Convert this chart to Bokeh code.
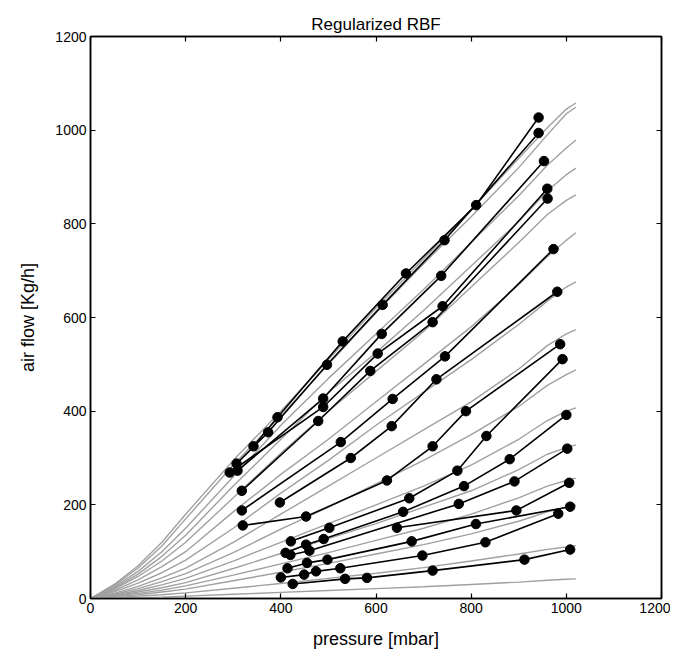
from bokeh.plotting import figure
from bokeh.models import LinearAxis, Range1d, FixedTicker, CustomLabelingPolicy
from bokeh.embed import file_html
from bokeh.resources import INLINE

# ---- model curves (gray), sampled at common pressures ----
gray_x = [0, 50, 100, 150, 200, 300, 400, 500, 600, 700, 800, 900, 960, 1000, 1020]
gray_1 = [0, 30, 70, 120, 180, 295, 400, 510, 620, 725, 830, 940, 1005, 1045, 1058]
gray_2 = [0, 28, 65, 112, 170, 285, 390, 500, 610, 715, 815, 920, 990, 1035, 1049]
gray_3 = [0, 25, 58, 100, 150, 260, 370, 470, 565, 660, 760, 860, 925, 962, 979]
gray_4 = [0, 22, 52, 90, 135, 240, 340, 440, 525, 615, 710, 805, 870, 905, 919]
gray_5 = [0, 20, 47, 80, 120, 215, 310, 400, 485, 570, 665, 760, 820, 850, 862]
gray_6 = [0, 17, 40, 68, 100, 185, 265, 340, 420, 500, 580, 670, 730, 765, 781]
gray_7 = [0, 14, 33, 55, 82, 150, 225, 295, 370, 440, 510, 585, 635, 665, 676]
gray_8 = [0, 11, 26, 44, 65, 120, 180, 240, 300, 360, 420, 490, 540, 565, 574]
gray_9 = [0, 9, 21, 36, 53, 98, 148, 195, 245, 295, 350, 410, 455, 478, 488]
gray_10 = [0, 7, 17, 29, 43, 80, 120, 160, 200, 240, 285, 340, 380, 400, 407]
gray_11 = [0, 6, 14, 23, 34, 64, 96, 128, 160, 195, 230, 275, 308, 322, 328]
gray_12 = [0, 5, 11, 18, 27, 50, 74, 98, 124, 150, 180, 215, 240, 252, 257]
gray_13 = [0, 4, 8, 14, 20, 38, 56, 75, 95, 115, 138, 165, 185, 195, 199]
gray_14 = [0, 2, 5, 8, 12, 22, 32, 43, 54, 66, 80, 95, 105, 110, 113]
gray_15 = [0, 1, 2, 3, 5, 9, 13, 17, 21, 25, 30, 35, 39, 41, 42]
gray_curves = [gray_1, gray_2, gray_3, gray_4, gray_5, gray_6, gray_7, gray_8,
               gray_9, gray_10, gray_11, gray_12, gray_13, gray_14, gray_15]

# ---- measured data (black), pressure [mbar] / air flow [Kg/h] ----
p_A = [342.5, 393, 530, 663, 810.5, 941.7]
f_A = [325, 387, 549, 694, 840, 1027]
p_B = [307, 373.3, 497, 614, 744, 941.7]
f_B = [288, 355, 499, 627, 765, 994]
p_C = [309, 489, 612, 737, 953]
f_C = [273, 427, 565, 689, 934]
p_D = [292.6, 489, 603.6, 740, 960]
f_D = [269, 409, 523, 624, 875]
p_E = [318, 478.5, 588, 719, 960.6]
f_E = [230, 379, 486, 590, 854]
p_F = [318, 526, 635, 745, 973]
f_F = [188, 334, 426, 517, 746]
p_G = [398, 547, 633, 727, 981]
f_G = [205, 300, 368, 468, 655]
p_H = [320, 453, 623, 719, 789, 987]
f_H = [156, 175, 252, 325, 400, 543]
p_I = [421, 502, 670, 771, 832, 992]
f_I = [122, 151, 214, 273, 347, 511]
p_J = [410, 453, 490, 657, 785, 881, 1000]
f_J = [97.5, 115, 127, 185, 240, 297.5, 392]
p_K = [420, 460, 774, 891, 1002]
f_K = [93, 102, 202, 250, 320]
p_N = [644, 895, 1006]
f_N = [151, 188, 247]
p_L = [414, 455, 498, 675, 810, 1008]
f_L = [64.5, 76, 83, 122, 159, 196]
p_M = [400, 449, 474, 525, 697.5, 830, 983]
f_M = [45, 51, 58, 64.5, 91.7, 120, 181]
p_O = [425, 535, 581, 719, 912, 1008]
f_O = [31, 42, 44, 59.6, 83, 104.5]
series = [(p_A, f_A), (p_B, f_B), (p_C, f_C), (p_D, f_D), (p_E, f_E), (p_F, f_F),
          (p_G, f_G), (p_H, f_H), (p_I, f_I), (p_J, f_J), (p_K, f_K), (p_N, f_N),
          (p_L, f_L), (p_M, f_M), (p_O, f_O)]

ticks = [0, 200, 400, 600, 800, 1000, 1200]
FONT = "Liberation Sans"

p = figure(width=670, height=652, output_backend="svg", toolbar_location=None,
           x_range=Range1d(0, 1200), y_range=Range1d(0, 1200),
           min_border_left=90, min_border_right=9, min_border_top=36, min_border_bottom=54,
           title="Regularized RBF")
p.title.align = "center"
p.title.text_font = FONT
p.title.text_font_size = "17px"
p.title.text_font_style = "normal"
p.title.text_color = "black"
p.title.standoff = 5

p.xgrid.visible = False
p.ygrid.visible = False
p.outline_line_color = "black"
p.outline_line_width = 1.5
p.outline_line_alpha = 1.0

for g in gray_curves:
    p.line(gray_x, g, line_color="#a0a0a0", line_width=1.4)

for px_, fy in series:
    p.line(px_, fy, line_color="black", line_width=1.6)
    p.scatter(px_, fy, size=9.5, fill_color="black", line_color="black")

for ax in (p.xaxis[0], p.yaxis[0]):
    ax.ticker = FixedTicker(ticks=ticks)
    ax.major_tick_in = 5
    ax.major_tick_out = 0
    ax.minor_tick_in = 0
    ax.minor_tick_out = 0
    ax.axis_line_width = 1.5
    ax.major_tick_line_width = 1.2
    ax.major_label_text_font = FONT
    ax.major_label_text_font_size = "14px"
    ax.major_label_text_color = "black"
    ax.axis_label_text_font = FONT
    ax.axis_label_text_font_size = "18px"
    ax.axis_label_text_font_style = "normal"
    ax.axis_label_text_color = "black"

p.xaxis[0].axis_label = "pressure [mbar]"
p.yaxis[0].axis_label = "air flow [Kg/h]"
p.xaxis[0].major_label_standoff = 4
p.yaxis[0].major_label_standoff = 4
p.xaxis[0].axis_label_standoff = 13
p.yaxis[0].axis_label_standoff = 14

no_labels = CustomLabelingPolicy(code="""
try { for (const i of Array.from(indices)) { indices.unset(i) } } catch (e) {}
return indices
""")

for side in ("above", "right"):
    a = LinearAxis(ticker=FixedTicker(ticks=ticks), major_tick_in=5, major_tick_out=0,
                   minor_tick_in=0, minor_tick_out=0, axis_line_width=1.5,
                   major_tick_line_width=1.2, major_label_text_font_size="0px",
                   major_label_standoff=0, major_label_policy=no_labels)
    p.add_layout(a, side)

open("out.html", "w").write(file_html(p, INLINE))
